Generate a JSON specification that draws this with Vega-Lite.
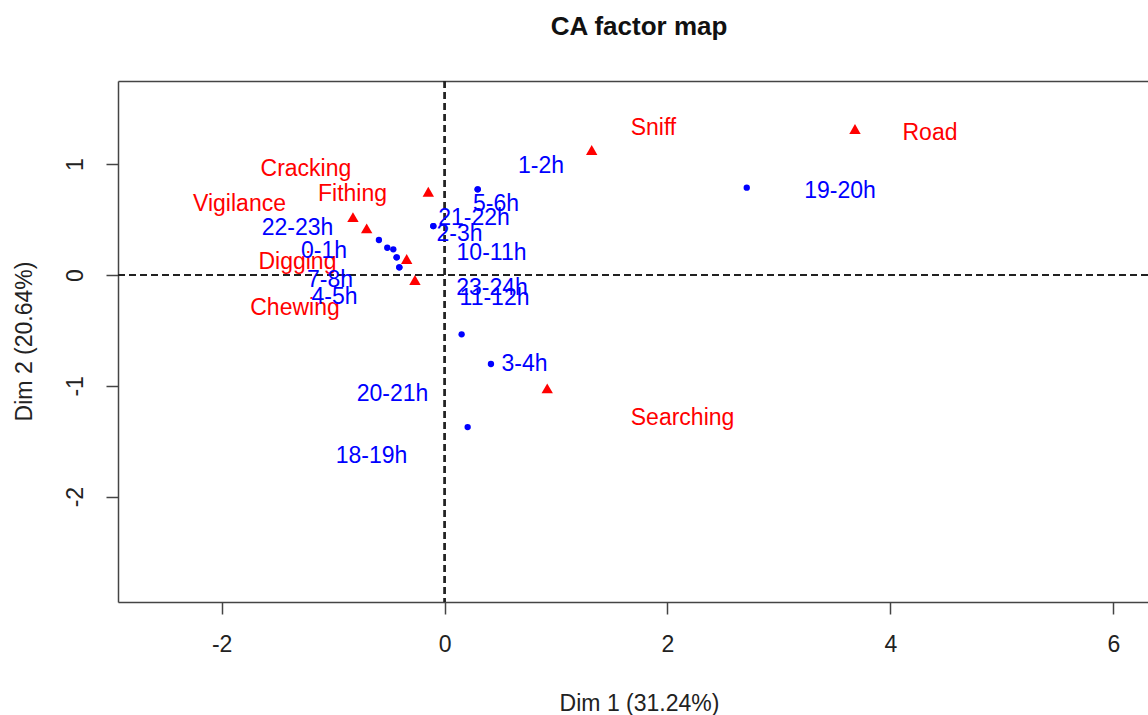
{
  "$schema": "https://vega.github.io/schema/vega-lite/v6.json",
  "autosize": {"type": "none"},
  "padding": {"left": 118, "top": 81, "right": 0, "bottom": 113},
  "width": 1030,
  "height": 521,
  "background": "white",
  "title": {"text": "CA factor map", "font": "Liberation Sans", "fontSize": 26, "fontWeight": "bold", "color": "#111", "anchor": "middle", "baseline": "alphabetic", "offset": 19, "dx": 6},
  "config": {
    "font": "Liberation Sans",
    "view": {"stroke": null},
    "axis": {"grid": false, "domainColor": "#444", "domainWidth": 1.5, "tickColor": "#444", "tickWidth": 1.5, "tickSize": 12, "labelFont": "Liberation Sans", "labelFontSize": 23, "labelColor": "#222", "titleFont": "Liberation Sans", "titleFontSize": 23, "titleFontWeight": "normal", "titleColor": "#222"}
  },
  "datasets": {
    "cols": [
      {"name": "Sniff", "x": 1.320, "y": 1.128, "lx": 1.874, "ly": 1.326},
      {"name": "Road", "x": 3.682, "y": 1.318, "lx": 4.355, "ly": 1.281},
      {"name": "Fithing", "x": -0.146, "y": 0.752, "lx": -0.826, "ly": 0.730},
      {"name": "Vigilance", "x": -0.822, "y": 0.523, "lx": -1.840, "ly": 0.640},
      {"name": "Cracking", "x": -0.699, "y": 0.421, "lx": -1.244, "ly": 0.956},
      {"name": "Digging", "x": -0.340, "y": 0.144, "lx": -1.320, "ly": 0.121},
      {"name": "Chewing", "x": -0.266, "y": -0.045, "lx": -1.342, "ly": -0.296},
      {"name": "Searching", "x": 0.921, "y": -1.023, "lx": 2.135, "ly": -1.289}
    ],
    "rows": [
      {"name": "0-1h", "x": -0.514, "y": 0.246, "lx": -1.082, "ly": 0.216},
      {"name": "1-2h", "x": 0.297, "y": 0.773, "lx": 0.865, "ly": 0.983},
      {"name": "2-3h", "x": -0.101, "y": 0.442, "lx": 0.134, "ly": 0.369},
      {"name": "3-4h", "x": 0.416, "y": -0.803, "lx": 0.717, "ly": -0.804},
      {"name": "4-5h", "x": -0.406, "y": 0.069, "lx": -0.988, "ly": -0.200},
      {"name": "5-6h", "x": 0.297, "y": 0.773, "lx": 0.461, "ly": 0.640},
      {"name": "7-8h", "x": -0.430, "y": 0.160, "lx": -1.028, "ly": -0.046},
      {"name": "10-11h", "x": -0.460, "y": 0.232, "lx": 0.421, "ly": 0.198},
      {"name": "11-12h", "x": -0.406, "y": 0.069, "lx": 0.448, "ly": -0.209},
      {"name": "18-19h", "x": 0.207, "y": -1.372, "lx": -0.656, "ly": -1.635},
      {"name": "19-20h", "x": 2.711, "y": 0.788, "lx": 3.548, "ly": 0.757},
      {"name": "20-21h", "x": 0.153, "y": -0.535, "lx": -0.467, "ly": -1.075},
      {"name": "21-22h", "x": -0.101, "y": 0.442, "lx": 0.264, "ly": 0.513},
      {"name": "22-23h", "x": -0.589, "y": 0.316, "lx": -1.320, "ly": 0.423},
      {"name": "23-24h", "x": -0.430, "y": 0.160, "lx": 0.425, "ly": -0.118}
    ]
  },
  "resolve": {"axis": {"x": "independent", "y": "independent"}},
  "layer": [
    {
      "data": {"name": "cols"},
      "mark": {"type": "rule", "color": "#222", "strokeWidth": 1.5, "strokeDash": [7, 4]},
      "encoding": {
        "x": {"datum": 0, "type": "quantitative", "scale": {"domain": [-2.93, 6.311], "nice": false, "zero": false},
              "axis": {"orient": "top", "labels": false, "ticks": false, "domain": true, "title": null}}
      }
    },
    {
      "data": {"name": "cols"},
      "mark": {"type": "rule", "color": "#222", "strokeWidth": 1.5, "strokeDash": [7, 4]},
      "encoding": {
        "y": {"datum": 0, "type": "quantitative", "scale": {"domain": [-2.951, 1.751], "nice": false, "zero": false}, "axis": null}
      }
    },
    {
      "data": {"name": "cols"},
      "mark": {"type": "point", "shape": "triangle-up", "filled": true, "color": "#FF0000", "size": 130, "opacity": 1},
      "encoding": {
        "x": {"field": "x", "type": "quantitative", "scale": {"domain": [-2.93, 6.311], "nice": false, "zero": false},
              "axis": {"orient": "bottom", "values": [-2, 0, 2, 4, 6], "labelExpr": "'' + datum.value", "labelPadding": 19, "title": "Dim 1 (31.24%)", "titleX": 521, "titleY": 108, "titleAlign": "center", "titleBaseline": "alphabetic", "labelFlush": false, "labelOverlap": false}},
        "y": {"field": "y", "type": "quantitative", "scale": {"domain": [-2.951, 1.751], "nice": false, "zero": false},
              "axis": {"orient": "left", "values": [-2, -1, 0, 1], "labelExpr": "'' + datum.value", "labelAngle": 270, "labelAlign": "center", "labelPadding": 19, "labelFlush": false, "labelOverlap": false, "title": "Dim 2 (20.64%)", "titleAngle": 270, "titleX": -87, "titleY": 260, "titleAlign": "center", "titleBaseline": "alphabetic"}},
        "tooltip": {"field": "name"}
      }
    },
    {
      "data": {"name": "cols"},
      "mark": {"type": "text", "color": "#FF0000", "fontSize": 23, "font": "Liberation Sans", "align": "center", "baseline": "middle"},
      "encoding": {
        "x": {"field": "lx", "type": "quantitative", "axis": null},
        "y": {"field": "ly", "type": "quantitative", "axis": null},
        "text": {"field": "name"}
      }
    },
    {
      "data": {"name": "rows"},
      "mark": {"type": "point", "shape": "circle", "filled": true, "color": "#0000FF", "size": 40, "opacity": 1},
      "encoding": {
        "x": {"field": "x", "type": "quantitative", "axis": null},
        "y": {"field": "y", "type": "quantitative", "axis": null},
        "tooltip": {"field": "name"}
      }
    },
    {
      "data": {"name": "rows"},
      "mark": {"type": "text", "color": "#0000FF", "fontSize": 23, "font": "Liberation Sans", "align": "center", "baseline": "middle"},
      "encoding": {
        "x": {"field": "lx", "type": "quantitative", "axis": null},
        "y": {"field": "ly", "type": "quantitative", "axis": null},
        "text": {"field": "name"}
      }
    }
  ]
}
